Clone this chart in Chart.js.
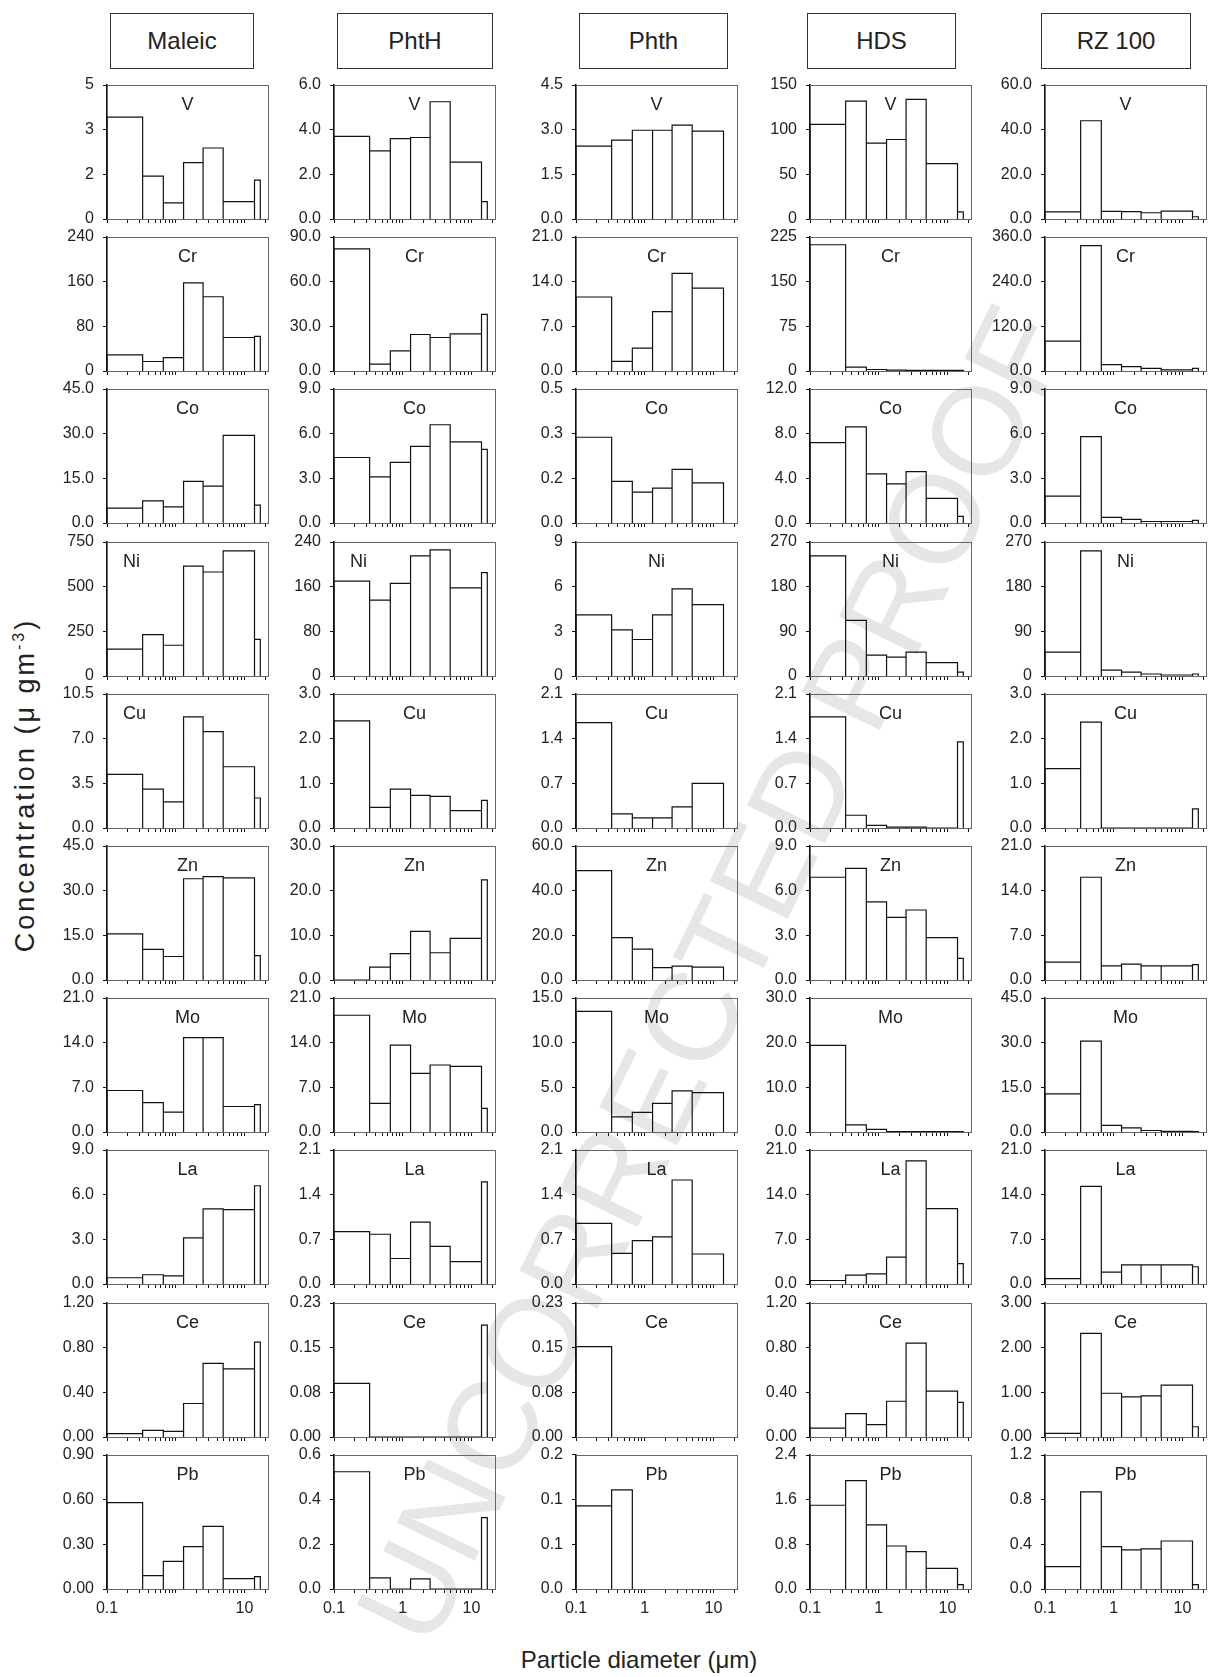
<!DOCTYPE html>
<html>
<head>
<meta charset="utf-8">
<script src="https://cdn.jsdelivr.net/npm/chart.js@4.4.0/dist/chart.umd.min.js"></script>
<style>
  body { margin: 0; background: #fff; width: 1208px; height: 1677px; position: relative; overflow: hidden;
         font-family: "Liberation Sans", Arial, sans-serif; color: #222; }
  .box { position: absolute; top: 13px; height: 56px; border: 1.3px solid #333; box-sizing: border-box;
         display: flex; align-items: center; justify-content: center; font-size: 24px; background: #fff; }
  canvas { position: absolute; z-index: 1; }
  #ytitle { position: absolute; left: 25px; top: 785px; transform: translate(-50%, -50%) rotate(-90deg);
            white-space: nowrap; font-size: 27px; letter-spacing: 3px; }
  #ytitle sup { font-size: 16px; }
  #xtitle { position: absolute; left: 639px; top: 1660px; transform: translate(-50%, -50%);
            white-space: nowrap; font-size: 24px; }
  #mark { position: absolute; left: 712px; top: 975px; transform: translate(-50%, -50%) rotate(-64deg);
          white-space: nowrap; font-size: 126px; color: #e6e6e6; z-index: 0; }
</style>
</head>
<body>
<div id="mark">UNCORRECTED PROOF</div>
<div id="ytitle">Concentration (μ gm<sup>-3</sup>)</div>
<div id="xtitle">Particle diameter (μm)</div>
<script>
// impactor stage edges (µm) shared by every panel
const binEdges = [0.1, 0.33, 0.66, 1.3, 2.5, 4.9, 14, 17];
const xTickValues = [0.1, 0.2, 0.3, 0.4, 0.5, 0.6, 0.7, 0.8, 0.9, 1, 2, 3, 4, 5, 6, 7, 8, 9, 10, 20];
const xLabelsMaleic = ['0.1', '10'];
const xLabelsOther = ['0.1', '1', '10'];

const columns = ['Maleic', 'PhtH', 'Phth', 'HDS', 'RZ 100'];
const elements = ['V', 'Cr', 'Co', 'Ni', 'Cu', 'Zn', 'Mo', 'La', 'Ce', 'Pb'];

const maleicMax = [5, 240, 45, 750, 10.5, 45, 21, 9, 1.2, 0.9];
const maleicTicks = [['0', '2', '3', '5'], ['0', '80', '160', '240'], ['0.0', '15.0', '30.0', '45.0'],
  ['0', '250', '500', '750'], ['0.0', '3.5', '7.0', '10.5'], ['0.0', '15.0', '30.0', '45.0'],
  ['0.0', '7.0', '14.0', '21.0'], ['0.0', '3.0', '6.0', '9.0'], ['0.00', '0.40', '0.80', '1.20'],
  ['0.00', '0.30', '0.60', '0.90']];
const maleicValues = [
  [3.8, 1.6, 0.6, 2.1, 2.65, 0.65, 1.45],
  [29, 17, 24, 158, 133, 60, 62],
  [5.0, 7.4, 5.4, 14.0, 12.4, 29.4, 6.0],
  [150, 232, 172, 615, 582, 700, 205],
  [4.2, 3.05, 2.05, 8.7, 7.55, 4.8, 2.35],
  [15.5, 10.3, 7.9, 34.0, 34.7, 34.3, 8.2],
  [6.5, 4.6, 3.1, 14.8, 14.8, 4.0, 4.3],
  [0.42, 0.62, 0.55, 3.1, 5.05, 5.0, 6.6],
  [0.03, 0.06, 0.05, 0.30, 0.66, 0.61, 0.85],
  [0.58, 0.09, 0.185, 0.285, 0.42, 0.07, 0.083]
];

const phtHMax = [6, 90, 9, 240, 3, 30, 21, 2.1, 0.23, 0.6];
const phtHTicks = [['0.0', '2.0', '4.0', '6.0'], ['0.0', '30.0', '60.0', '90.0'], ['0.0', '3.0', '6.0', '9.0'],
  ['0', '80', '160', '240'], ['0.0', '1.0', '2.0', '3.0'], ['0.0', '10.0', '20.0', '30.0'],
  ['0.0', '7.0', '14.0', '21.0'], ['0.0', '0.7', '1.4', '2.1'], ['0.00', '0.08', '0.15', '0.23'],
  ['0.0', '0.2', '0.4', '0.6']];
const phtHValues = [
  [3.7, 3.05, 3.6, 3.65, 5.25, 2.55, 0.78],
  [82, 4.6, 13.5, 24.5, 22.5, 25, 38],
  [4.4, 3.1, 4.07, 5.15, 6.6, 5.45, 4.95],
  [170, 136, 166, 215, 226, 158, 185],
  [2.4, 0.46, 0.87, 0.73, 0.71, 0.39, 0.62],
  [0, 2.9, 5.9, 10.9, 6.1, 9.3, 22.4],
  [18.3, 4.5, 13.6, 9.2, 10.5, 10.3, 3.7],
  [0.82, 0.78, 0.40, 0.97, 0.59, 0.35, 1.6],
  [0.092, 0, 0, 0, 0, 0, 0.192],
  [0.525, 0.05, 0, 0.045, 0, 0, 0.32]
];

const phthMax = [4.5, 21, 0.5, 9, 2.1, 60, 15, 2.1, 0.23, 0.2];
const phthTicks = [['0.0', '1.5', '3.0', '4.5'], ['0.0', '7.0', '14.0', '21.0'], ['0.0', '0.2', '0.3', '0.5'],
  ['0', '3', '6', '9'], ['0.0', '0.7', '1.4', '2.1'], ['0.0', '20.0', '40.0', '60.0'],
  ['0.0', '5.0', '10.0', '15.0'], ['0.0', '0.7', '1.4', '2.1'], ['0.00', '0.08', '0.15', '0.23'],
  ['0.0', '0.1', '0.1', '0.2']];
const phthValues = [
  [2.45, 2.65, 2.98, 2.98, 3.15, 2.95, null],
  [11.6, 1.5, 3.6, 9.3, 15.3, 13.0, null],
  [0.32, 0.155, 0.115, 0.13, 0.2, 0.15, null],
  [4.1, 3.1, 2.45, 4.1, 5.85, 4.8, null],
  [1.65, 0.22, 0.16, 0.16, 0.33, 0.7, null],
  [49, 19, 13.8, 5.5, 6.2, 5.8, null],
  [13.5, 1.7, 2.2, 3.2, 4.6, 4.4, null],
  [0.95, 0.48, 0.68, 0.74, 1.63, 0.47, null],
  [0.155, null, null, null, null, null, null],
  [0.124, 0.148, null, null, null, null, null]
];

const hdsMax = [150, 225, 12, 270, 2.1, 9, 30, 21, 1.2, 2.4];
const hdsTicks = [['0', '50', '100', '150'], ['0', '75', '150', '225'], ['0.0', '4.0', '8.0', '12.0'],
  ['0', '90', '180', '270'], ['0.0', '0.7', '1.4', '2.1'], ['0.0', '3.0', '6.0', '9.0'],
  ['0.0', '10.0', '20.0', '30.0'], ['0.0', '7.0', '14.0', '21.0'], ['0.00', '0.40', '0.80', '1.20'],
  ['0.0', '0.8', '1.6', '2.4']];
const hdsValues = [
  [106, 132, 85, 89, 134, 62, 8],
  [212, 6.5, 2.5, 1.5, 1, 1, 1],
  [7.2, 8.6, 4.4, 3.5, 4.6, 2.2, 0.6],
  [242, 112, 42, 38, 48, 27, 8],
  [1.74, 0.2, 0.04, 0.015, 0.015, 0, 1.35],
  [6.9, 7.5, 5.25, 4.2, 4.7, 2.85, 1.45],
  [19.4, 1.6, 0.6, 0.1, 0.1, 0.1, 0.1],
  [0.55, 1.4, 1.6, 4.2, 19.3, 11.8, 3.2],
  [0.08, 0.21, 0.11, 0.32, 0.84, 0.41, 0.31],
  [1.5, 1.94, 1.15, 0.77, 0.67, 0.37, 0.08]
];

const rzMax = [60, 360, 9, 270, 3, 21, 45, 21, 3, 1.2];
const rzTicks = [['0.0', '20.0', '40.0', '60.0'], ['0.0', '120.0', '240.0', '360.0'], ['0.0', '3.0', '6.0', '9.0'],
  ['0', '90', '180', '270'], ['0.0', '1.0', '2.0', '3.0'], ['0.0', '7.0', '14.0', '21.0'],
  ['0.0', '15.0', '30.0', '45.0'], ['0.0', '7.0', '14.0', '21.0'], ['0.00', '1.00', '2.00', '3.00'],
  ['0.0', '0.4', '0.8', '1.2']];
const rzValues = [
  [3.2, 44, 3.4, 3.3, 2.8, 3.5, 1.0],
  [80, 337, 17, 12, 7, 3, 7],
  [1.8, 5.8, 0.38, 0.24, 0.1, 0.1, 0.17],
  [48, 252, 12, 8, 4, 2, 4],
  [1.33, 2.37, 0, 0, 0, 0, 0.43],
  [2.8, 16.1, 2.2, 2.5, 2.2, 2.2, 2.4],
  [12.8, 30.5, 2.2, 1.4, 0.5, 0.2, 0.1],
  [0.85, 15.3, 1.85, 3.0, 3.0, 3.0, 2.7],
  [0.08, 2.32, 0.98, 0.9, 0.92, 1.16, 0.23],
  [0.2, 0.87, 0.38, 0.35, 0.36, 0.43, 0.04]
];

const colMax = [maleicMax, phtHMax, phthMax, hdsMax, rzMax];
const colTicks = [maleicTicks, phtHTicks, phthTicks, hdsTicks, rzTicks];
const colValues = [maleicValues, phtHValues, phthValues, hdsValues, rzValues];

// layout
const colX = [107, 334, 576, 810, 1045];
const boxX = [[110, 254], [337, 493], [579, 728], [807, 956], [1041, 1191]];
const plotW = 161, plotH = 134, rowTop0 = 85, rowStep = 152.2;
// y tick padding also pads the scale top/bottom, so leave room for it
const yAxisW = 62, padTop = 20, padRight = 8;
const leftNames = { '0-3': 1, '0-4': 1, '1-3': 1 };
const fontFamily = '"Liberation Sans", Arial, sans-serif';

columns.forEach((name, c) => {
  const d = document.createElement('div');
  d.className = 'box';
  d.style.left = boxX[c][0] + 'px';
  d.style.width = (boxX[c][1] - boxX[c][0]) + 'px';
  d.textContent = name;
  document.body.appendChild(d);
});

// outline of each impactor stage as one stepped path
function histPoints(vals) {
  const pts = [];
  vals.forEach((v, i) => {
    if (v === null) return;
    const a = binEdges[i], b = binEdges[i + 1];
    pts.push({ x: a, y: 0 }, { x: a, y: v }, { x: b, y: v }, { x: b, y: 0 });
  });
  return pts;
}

const framePlugin = {
  id: 'frame',
  beforeDatasetsDraw(chart) {
    const a = chart.chartArea, ctx = chart.ctx;
    ctx.save();
    ctx.strokeStyle = '#666';
    ctx.lineWidth = 1;
    ctx.strokeRect(Math.round(a.left) + 0.5, Math.round(a.top) + 0.5, Math.round(a.right - a.left), Math.round(a.bottom - a.top));
    ctx.restore();
  }
};

const namePlugin = {
  id: 'elname',
  afterDatasetsDraw(chart, args, opts) {
    const a = chart.chartArea, ctx = chart.ctx;
    ctx.save();
    ctx.font = '18px ' + fontFamily;
    ctx.fillStyle = '#222';
    ctx.textBaseline = 'middle';
    if (opts.left) {
      ctx.textAlign = 'left';
      ctx.fillText(opts.text, a.left + 16, a.top + 20);
    } else {
      ctx.textAlign = 'center';
      ctx.fillText(opts.text, (a.left + a.right) / 2, a.top + 20);
    }
    ctx.restore();
  }
};

for (let c = 0; c < columns.length; c++) {
  for (let r = 0; r < elements.length; r++) {
    const bottomRow = r === elements.length - 1;
    const xAxisH = bottomRow ? 36 : 20;
    const top = rowTop0 + rowStep * r;
    const cv = document.createElement('canvas');
    cv.width = yAxisW + plotW + padRight;
    cv.height = padTop + plotH + xAxisH;
    cv.style.left = (colX[c] - yAxisW) + 'px';
    cv.style.top = Math.round(top - padTop) + 'px';
    document.body.appendChild(cv);

    const max = colMax[c][r];
    const labels = colTicks[c][r];
    const xLabels = c === 0 ? xLabelsMaleic : xLabelsOther;

    new Chart(cv.getContext('2d'), {
      type: 'line',
      data: {
        datasets: [{
          data: histPoints(colValues[c][r]),
          borderColor: '#111',
          borderWidth: 1.2,
          pointRadius: 0,
          tension: 0,
          fill: false
        }]
      },
      options: {
        responsive: false,
        maintainAspectRatio: false,
        animation: false,
        devicePixelRatio: 1,
        layout: { padding: { top: padTop, right: padRight, left: 0, bottom: 0 } },
        plugins: {
          legend: { display: false },
          tooltip: { enabled: false },
          elname: { text: elements[r], left: !!leftNames[c + '-' + r] }
        },
        scales: {
          x: {
            type: 'logarithmic',
            min: 0.1,
            max: 22,
            afterBuildTicks: (s) => { s.ticks = xTickValues.map(v => ({ value: v })); },
            afterFit: (s) => { s.height = xAxisH; },
            border: { display: true, color: '#111', width: 1 },
            grid: { drawOnChartArea: false, drawTicks: true, tickLength: 4, color: '#111' },
            ticks: {
              display: bottomRow,
              autoSkip: false,
              maxRotation: 0,
              minRotation: 0,
              padding: 6,
              color: '#222',
              font: { family: fontFamily, size: 16 },
              callback: (v) => {
                const s = String(v);
                return xLabels.includes(s) ? s : '';
              }
            }
          },
          y: {
            type: 'linear',
            min: 0,
            max: max,
            afterBuildTicks: (s) => { s.ticks = [0, 1, 2, 3].map(k => ({ value: max * k / 3 })); },
            afterFit: (s) => { s.width = yAxisW; },
            border: { display: true, color: '#111', width: 1.6 },
            grid: { drawOnChartArea: false, drawTicks: true, tickLength: 4, color: '#111' },
            ticks: {
              autoSkip: false,
              padding: 9,
              color: '#222',
              font: { family: fontFamily, size: 16 },
              callback: (v, i) => labels[i]
            }
          }
        }
      },
      plugins: [framePlugin, namePlugin]
    });
  }
}
</script>
</body>
</html>
